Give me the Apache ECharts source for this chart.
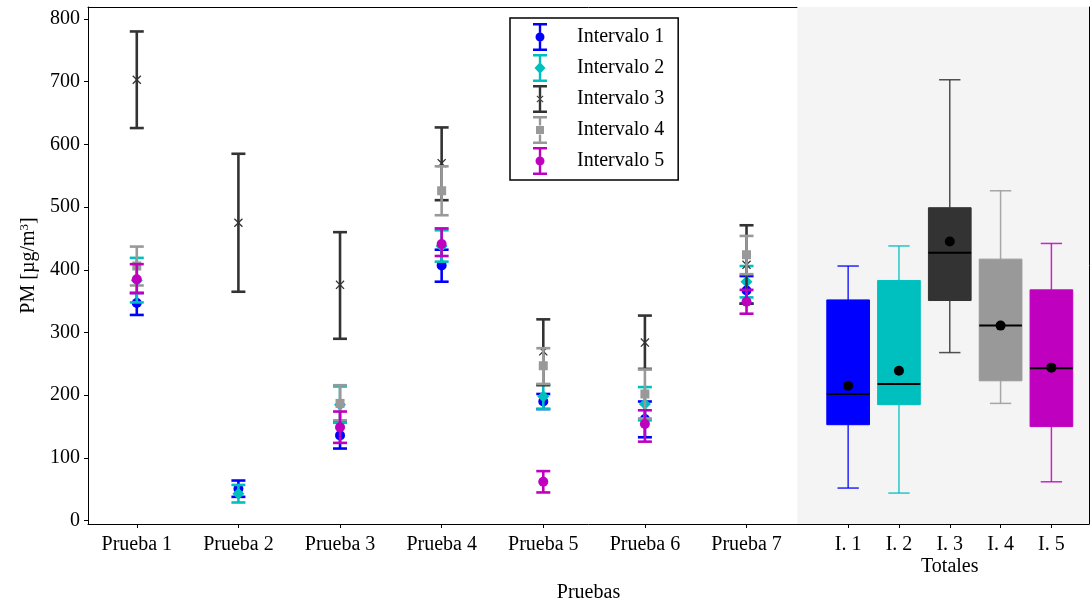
<!DOCTYPE html>
<html lang="es">
<head>
  <meta charset="UTF-8">
  <title>PM por prueba e intervalo</title>
  <script src="https://cdn.jsdelivr.net/npm/echarts@6/dist/echarts.min.js"></script>
  <style>
    html, body { margin: 0; padding: 0; background: #fff; }
    #main { width: 1091px; height: 602px; }
  </style>
</head>
<body>
<div id="main"></div>
<script>
  // ejes
  const pruebas = ['Prueba 1', 'Prueba 2', 'Prueba 3', 'Prueba 4', 'Prueba 5', 'Prueba 6', 'Prueba 7'];
  const pruebaPos = [1, 2, 3, 4, 5, 6, 7];
  const totales = ['I. 1', 'I. 2', 'I. 3', 'I. 4', 'I. 5'];
  const totalPos = [8, 8.5, 9, 9.5, 10];
  const totalesTitle = 'Totales';
  const yTicks = [0, 100, 200, 300, 400, 500, 600, 700, 800];
  const intervalos = ['Intervalo 1', 'Intervalo 2', 'Intervalo 3', 'Intervalo 4', 'Intervalo 5'];

  // medias y barras de error por intervalo (una entrada por prueba)
  const mean1 = [347, 51, 136, 407, 190, 162, 367];
  const low1  = [328, 38, 115, 381, 178, 133, 346];
  const high1 = [363, 64, 157, 432, 202, 190, 390];

  const mean2 = [383, 43, 185, 438, 198, 186, 381];
  const low2  = [348, 29, 156, 413, 178, 160, 356];
  const high2 = [419, 57, 214, 463, 217, 213, 406];

  const mean3 = [703, 475, 376, 570, 270, 284, 408];
  const low3  = [626, 365, 290, 511, 216, 242, 346];
  const high3 = [780, 585, 460, 627, 321, 327, 471];

  const mean4 = [406, null, 187, 526, 247, 202, 424];
  const low4  = [375, null, 160, 487, 218, 163, 393];
  const high4 = [437, null, 216, 565, 275, 241, 454];

  const mean5 = [385, null, 149, 441, 62, 154, 349];
  const low5  = [363, null, 124, 422, 45, 126, 330];
  const high5 = [409, null, 174, 466, 79, 176, 368];

  // diagramas de caja (totales)
  const boxMin    = [52, 44, 268, 187, 62];
  const boxQ1     = [153, 185, 351, 223, 150];
  const boxMedian = [202, 218, 427, 311, 243];
  const boxQ3     = [352, 383, 499, 417, 368];
  const boxMax    = [406, 438, 703, 526, 442];
  const boxMean   = [215, 239, 445, 311, 244];

  const means = [mean1, mean2, mean3, mean4, mean5];
  const lows = [low1, low2, low3, low4, low5];
  const highs = [high1, high2, high3, high4, high5];

  const colors = ['#0000ff', '#00bfbf', '#333333', '#999999', '#bf00bf'];
  const font = "'Liberation Serif', 'DejaVu Serif', serif";
  const fs = 20;
  const xMin = 0.52, xMax = 10.37, totalStart = 7.5;
  const yMin = -5.3, yMax = 819;

  const xPath = 'path://M1,0 L5,4 L9,0 L10,1 L6,5 L10,9 L9,10 L5,6 L1,10 L0,9 L4,5 L0,1 Z';
  const symbols = ['circle', 'diamond', xPath, 'rect', 'circle'];
  const symbolSizes = [10, 12, 9, 9, 10];

  // iconos de la leyenda: barra de error con su marcador
  const caps = 'M0,0 H14 V2.5 H0 Z M0,25.5 H14 V28 H0 Z ';
  const stemSplit = 'M5.8,2.5 H8.2 V9.5 H5.8 Z M5.8,18.5 H8.2 V25.5 H5.8 Z ';
  const stemX = 'M5.8,2.5 H8.2 V12.8 H5.8 Z M5.8,15.2 H8.2 V25.5 H5.8 Z ';
  const mkCircle = 'M2.5,14 A4.5,4.5 0 1,1 11.5,14 A4.5,4.5 0 1,1 2.5,14 Z';
  const mkDiamond = 'M7,8 L12.5,14 L7,20 L1.5,14 Z';
  const mkSquare = 'M3,10 H11 V18 H3 Z';
  const mkX = 'M3.5,11.2 L4.2,10.5 L7,13.3 L9.8,10.5 L10.5,11.2 L7.7,14 L10.5,16.8 L9.8,17.5 L7,14.7 L4.2,17.5 L3.5,16.8 L6.3,14 Z';
  const legendIcons = [
    'path://' + caps + stemSplit + mkCircle,
    'path://' + caps + stemSplit + mkDiamond,
    'path://' + caps + stemX + mkX,
    'path://' + caps + stemSplit + mkSquare,
    'path://' + caps + stemSplit + mkCircle
  ];

  function renderErrorBar(params, api) {
    const x = api.value(0);
    const lo = api.coord([x, api.value(1)]);
    const hi = api.coord([x, api.value(2)]);
    const half = 7;
    const style = { stroke: api.visual('color'), lineWidth: 2.6 };
    return {
      type: 'group',
      children: [
        { type: 'line', shape: { x1: lo[0], y1: lo[1], x2: hi[0], y2: hi[1] }, style: style },
        { type: 'line', shape: { x1: lo[0] - half, y1: lo[1], x2: lo[0] + half, y2: lo[1] }, style: style },
        { type: 'line', shape: { x1: hi[0] - half, y1: hi[1], x2: hi[0] + half, y2: hi[1] }, style: style }
      ]
    };
  }

  function renderBox(params, api) {
    const x = api.value(0);
    const color = colors[params.dataIndex];
    const pMin = api.coord([x, api.value(1)]);
    const pQ1 = api.coord([x, api.value(2)]);
    const pMed = api.coord([x, api.value(3)]);
    const pQ3 = api.coord([x, api.value(4)]);
    const pMax = api.coord([x, api.value(5)]);
    const w = api.size([0.42, 0])[0];
    const c = w / 4;
    const wStyle = { stroke: color, lineWidth: 1.5, opacity: 0.85 };
    return {
      type: 'group',
      children: [
        { type: 'line', shape: { x1: pMin[0], y1: pMin[1], x2: pQ1[0], y2: pQ1[1] }, style: wStyle },
        { type: 'line', shape: { x1: pQ3[0], y1: pQ3[1], x2: pMax[0], y2: pMax[1] }, style: wStyle },
        { type: 'line', shape: { x1: pMin[0] - c, y1: pMin[1], x2: pMin[0] + c, y2: pMin[1] }, style: wStyle },
        { type: 'line', shape: { x1: pMax[0] - c, y1: pMax[1], x2: pMax[0] + c, y2: pMax[1] }, style: wStyle },
        {
          type: 'rect',
          shape: { x: pQ3[0] - w / 2, y: pQ3[1], width: w, height: pQ1[1] - pQ3[1] },
          style: { fill: color, stroke: color, lineWidth: 1 }
        },
        { type: 'line', shape: { x1: pMed[0] - w / 2, y1: pMed[1], x2: pMed[0] + w / 2, y2: pMed[1] }, style: { stroke: '#000', lineWidth: 2 } }
      ]
    };
  }

  const near = (a, b) => Math.abs(a - b) < 1e-6;

  const series = [
    {
      name: 'Totales',
      type: 'custom',
      renderItem: renderBox,
      encode: { x: 0, y: [1, 2, 3, 4, 5] },
      z: 1,
      data: totalPos.map((p, i) => [p, boxMin[i], boxQ1[i], boxMedian[i], boxQ3[i], boxMax[i]]),
      markArea: {
        silent: true,
        itemStyle: { color: '#f4f4f4' },
        data: [[{ xAxis: totalStart }, { xAxis: xMax }]]
      }
    },
    {
      name: 'Media',
      type: 'scatter',
      symbol: 'circle',
      symbolSize: 10,
      z: 3,
      itemStyle: { color: '#000', opacity: 1 },
      data: totalPos.map((p, i) => [p, boxMean[i]])
    }
  ];

  intervalos.forEach((name, k) => {
    const bars = [];
    const pts = [];
    pruebaPos.forEach((p, i) => {
      if (means[k][i] == null) return;
      bars.push([p, lows[k][i], highs[k][i]]);
      pts.push([p, means[k][i]]);
    });
    series.push({
      name: name,
      type: 'custom',
      renderItem: renderErrorBar,
      encode: { x: 0, y: [1, 2] },
      z: 4 + 2 * k,
      itemStyle: { color: colors[k] },
      data: bars
    });
    series.push({
      name: name,
      type: 'scatter',
      symbol: symbols[k],
      symbolSize: symbolSizes[k],
      z: 5 + 2 * k,
      itemStyle: { color: colors[k], opacity: 1 },
      data: pts
    });
  });

  const frame = { show: true, onZero: false, lineStyle: { color: '#000', width: 1 } };

  const chart = echarts.init(document.getElementById('main'));

  chart.setOption({
    animation: false,
    textStyle: { fontFamily: font },
    grid: {
      left: 88, right: 2, top: 7, bottom: 78,
      outerBoundsMode: 'none',
      containLabel: false
    },
    legend: {
      orient: 'vertical',
      left: 510,
      top: 18,
      padding: [5, 14, 5, 23],
      itemWidth: 14,
      itemHeight: 28,
      itemGap: 3,
      borderColor: '#000',
      borderWidth: 1.5,
      borderRadius: 0,
      backgroundColor: '#fff',
      selectedMode: false,
      textStyle: { fontFamily: font, fontSize: fs, color: '#000', padding: [0, 0, 0, 25] },
      data: intervalos.map((n, k) => ({ name: n, icon: legendIcons[k], itemStyle: { color: colors[k], borderWidth: 0 } }))
    },
    xAxis: [
      {
        type: 'value',
        min: xMin,
        max: xMax,
        name: 'Pruebas',
        nameLocation: 'middle',
        nameGap: 57,
        nameTextStyle: { fontFamily: font, fontSize: fs, color: '#000' },
        axisLine: frame,
        axisTick: { customValues: pruebaPos.concat(totalPos), length: 4, lineStyle: { color: '#000' } },
        axisLabel: {
          customValues: pruebaPos.concat(totalPos),
          fontFamily: font, fontSize: fs, color: '#000', margin: 10, lineHeight: 22,
          formatter: function (v) {
            const i = pruebaPos.findIndex(p => near(p, v));
            if (i >= 0) return pruebas[i];
            const j = totalPos.findIndex(p => near(p, v));
            if (j >= 0) return totales[j] + (j === 2 ? '\n' + totalesTitle : '');
            return '';
          }
        },
        splitLine: { show: false }
      },
      {
        type: 'value', position: 'top', min: xMin, max: xMax,
        axisLine: frame, axisTick: { show: false }, axisLabel: { show: false }, splitLine: { show: false }
      }
    ],
    yAxis: [
      {
        type: 'value',
        min: yMin,
        max: yMax,
        name: '{a|PM [µg/m}{s|3}{a|]}',
        nameLocation: 'middle',
        nameGap: 48,
        nameTextStyle: {
          rich: {
            a: { fontFamily: font, fontSize: fs, color: '#000' },
            s: { fontFamily: font, fontSize: 13, color: '#000', verticalAlign: 'top', padding: [0, 0, 9, 0] }
          }
        },
        axisLine: frame,
        axisTick: { show: true, customValues: yTicks, length: 4, lineStyle: { color: '#000' } },
        axisLabel: { customValues: yTicks, fontFamily: font, fontSize: fs, color: '#000', margin: 8 },
        splitLine: { show: false }
      },
      {
        type: 'value', position: 'right', min: yMin, max: yMax,
        axisLine: frame, axisTick: { show: false }, axisLabel: { show: false }, splitLine: { show: false }
      }
    ],
    series: series
  });
</script>
</body>
</html>
